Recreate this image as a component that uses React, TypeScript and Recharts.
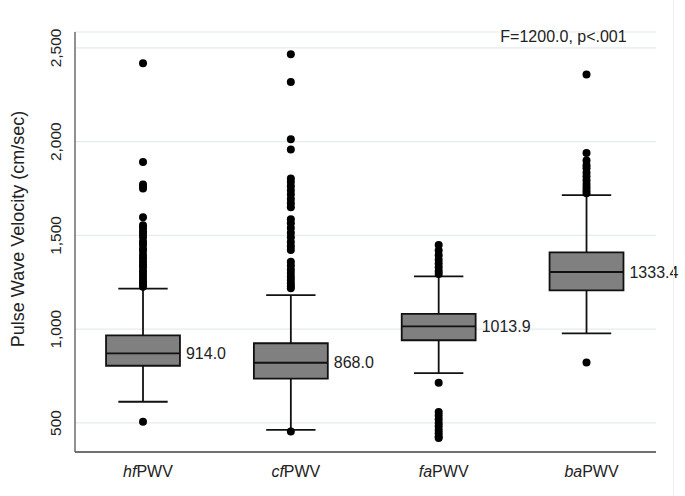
import React from 'react';
import {
  ComposedChart,
  Scatter,
  XAxis,
  YAxis,
  CartesianGrid,
  ReferenceArea,
  ReferenceLine,
} from 'recharts';

const categories = ['hf', 'cf', 'fa', 'ba'];
const means = [914.0, 868.0, 1013.9, 1333.4];
const q1 = [805, 736, 941, 1207];
const medians = [871, 821, 1015, 1305];
const q3 = [967, 925, 1082, 1410];
const lowerWhisker = [613, 463, 766, 978];
const upperWhisker = [1216, 1182, 1282, 1715];

const hfOutliers = [2418, 1892, 1772, 1762, 1750, 1597, 1555, 1540, 1522, 1508, 1490, 1468, 1452, 1431, 1418, 1397, 1380, 1362, 1345, 1330, 1311, 1296, 1280, 1264, 1250, 1238, 1226, 507];
const cfOutliers = [2466, 2319, 2013, 1958, 1804, 1785, 1762, 1740, 1718, 1695, 1672, 1650, 1586, 1565, 1540, 1515, 1490, 1465, 1443, 1422, 1360, 1340, 1318, 1300, 1280, 1262, 1245, 1230, 1218, 454];
const faOutliers = [1449, 1420, 1395, 1370, 1350, 1330, 1310, 1295, 715, 558, 540, 520, 500, 482, 462, 445, 428, 420];
const baOutliers = [2358, 1940, 1900, 1875, 1858, 1835, 1815, 1795, 1775, 1757, 1740, 1725, 823];
const outlierGroups = [hfOutliers, cfOutliers, faOutliers, baOutliers];

const yTicks = [500, 1000, 1500, 2000, 2500];

const BOX_HALF = 0.25;
const CAP_HALF = 0.167;
const FONT = '"Liberation Sans", Arial, Helvetica, sans-serif';
const INK = '#111';

const outlierData = outlierGroups.flatMap((vals, i) => vals.map((v) => ({ x: i + 1, y: v })));
const labelData = categories.map((c, i) => ({ x: i + 1 + BOX_HALF, y: medians[i], label: means[i].toFixed(1) }));

const YTick = ({ x, y, payload }: any) => (
  <text
    x={x - 12}
    y={y}
    transform={`rotate(-90 ${x - 12} ${y})`}
    textAnchor="middle"
    dominantBaseline="central"
    fontSize={15.5}
    fontFamily={FONT}
    fill="#222"
  >
    {payload.value.toLocaleString('en-US')}
  </text>
);

const XTick = ({ x, y, payload }: any) => {
  const idx = payload.value - 1;
  return (
    <text x={x + 5} y={y + 17} textAnchor="middle" fontSize={16} fontFamily={FONT} fill="#222">
      <tspan fontStyle="italic">{categories[idx]}</tspan>
      <tspan>PWV</tspan>
    </text>
  );
};

export default function App() {
  return (
    <div style={{ position: 'absolute', left: 0, top: 0, width: 685, height: 496, background: '#fff' }}>
      <ComposedChart
        width={685}
        height={496}
        margin={{ top: 32, right: 29, bottom: 14, left: 25 }}
      >
        <CartesianGrid vertical={false} stroke="#e4ecee" strokeWidth={1.2} />
        <XAxis
          type="number"
          dataKey="x"
          domain={[0.54, 4.47]}
          ticks={[1, 2, 3, 4]}
          height={30}
          axisLine={{ stroke: '#444', strokeWidth: 1.3 }}
          tickLine={false}
          tick={<XTick />}
        />
        <YAxis
          type="number"
          dataKey="y"
          domain={[345, 2585]}
          ticks={yTicks}
          width={50}
          axisLine={{ stroke: '#555', strokeWidth: 1.3 }}
          tickLine={false}
          tick={<YTick />}
          label={{
            content: () => (
              <text
                transform="translate(18,229) rotate(-90)"
                textAnchor="middle"
                dominantBaseline="central"
                fontSize={18}
                fontFamily={FONT}
                fill="#222"
              >
                Pulse Wave Velocity (cm/sec)
              </text>
            ),
          }}
        />

        {categories.map((c, i) => (
          <ReferenceLine
            key={`wl-${c}`}
            segment={[{ x: i + 1, y: lowerWhisker[i] }, { x: i + 1, y: q1[i] }]}
            stroke={INK}
            strokeWidth={1.8}
          />
        ))}
        {categories.map((c, i) => (
          <ReferenceLine
            key={`wh-${c}`}
            segment={[{ x: i + 1, y: q3[i] }, { x: i + 1, y: upperWhisker[i] }]}
            stroke={INK}
            strokeWidth={1.8}
          />
        ))}
        {categories.map((c, i) => (
          <ReferenceLine
            key={`cl-${c}`}
            segment={[{ x: i + 1 - CAP_HALF, y: lowerWhisker[i] }, { x: i + 1 + CAP_HALF, y: lowerWhisker[i] }]}
            stroke={INK}
            strokeWidth={1.8}
          />
        ))}
        {categories.map((c, i) => (
          <ReferenceLine
            key={`ch-${c}`}
            segment={[{ x: i + 1 - CAP_HALF, y: upperWhisker[i] }, { x: i + 1 + CAP_HALF, y: upperWhisker[i] }]}
            stroke={INK}
            strokeWidth={1.8}
          />
        ))}
        {categories.map((c, i) => (
          <ReferenceArea
            key={`box-${c}`}
            x1={i + 1 - BOX_HALF}
            x2={i + 1 + BOX_HALF}
            y1={q1[i]}
            y2={q3[i]}
            fill="#808080"
            fillOpacity={1}
            stroke={INK}
            strokeWidth={1.8}
          />
        ))}
        {categories.map((c, i) => (
          <ReferenceLine
            key={`med-${c}`}
            segment={[{ x: i + 1 - BOX_HALF, y: medians[i] }, { x: i + 1 + BOX_HALF, y: medians[i] }]}
            stroke={INK}
            strokeWidth={1.8}
          />
        ))}

        <Scatter
          data={outlierData}
          isAnimationActive={false}
          shape={(p: any) => <circle cx={p.cx} cy={p.cy} r={4} fill="#000" />}
        />
        <Scatter
          data={labelData}
          isAnimationActive={false}
          shape={(p: any) => (
            <text
              x={p.cx + 6}
              y={p.cy}
              dominantBaseline="central"
              fontSize={16}
              fontFamily={FONT}
              fill="#222"
            >
              {p.payload.label}
            </text>
          )}
        />
      </ComposedChart>
      <div
        style={{
          position: 'absolute',
          left: 500,
          top: 28,
          width: 127,
          textAlign: 'center',
          fontSize: 16,
          fontFamily: FONT,
          color: '#222',
          lineHeight: '18px',
        }}
      >
        F=1200.0, p&lt;.001
      </div>
      <div style={{ position: 'absolute', left: 673, top: 0, width: 1, height: 496, background: '#f0f0f0' }} />
    </div>
  );
}
